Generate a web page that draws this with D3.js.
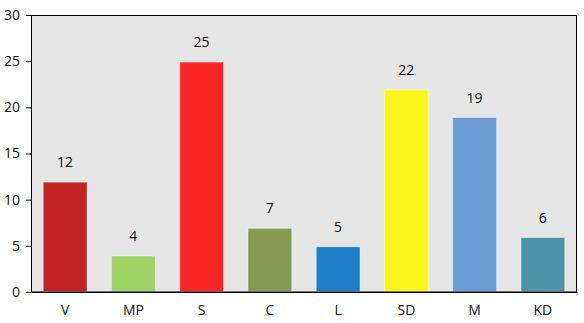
<!DOCTYPE html>
<html>
<meta charset='utf-8'>
<head>
<script src='https://cdnjs.cloudflare.com/ajax/libs/d3/7.8.5/d3.min.js'></script>
<style>
body { margin: 0; background: #fff; }
text { font-family: 'Open Sans', 'Noto Sans', sans-serif; font-size: 14px; fill: #111; }
</style>
</head>
<body>
<div id='chart'></div>
<script>
var parties = ['V', 'MP', 'S', 'C', 'L', 'SD', 'M', 'KD']
var seats = [12, 4, 25, 7, 5, 22, 19, 6]
var colors = ['#c42222', '#9dd265', '#fb2424', '#869b51', '#1e7ec8', '#faf71c', '#6a9bd5', '#4a94a8']
var yTicks = [0, 5, 10, 15, 20, 25, 30]

var margin = {top: 15, right: 7, bottom: 31, left: 31},
    width = 584 - margin.left - margin.right,
    height = 323 - margin.top - margin.bottom;

var svg = d3.select('#chart')
    .append('svg')
    .attr('width', 584)
    .attr('height', 323)
    .append('g')
    .attr('transform', 'translate(' + margin.left + ',' + margin.top + ')');

var x = d3.scaleBand()
    .domain(parties)
    .range([0, width])
    .paddingInner(0.36)
    .paddingOuter(0.18)

var y = d3.scaleLinear()
    .domain([0, 30])
    .range([height, 0])

svg.append('rect')
    .attr('width', width)
    .attr('height', height)
    .style('fill', '#e5e5e5')

var data = parties.map(function(p, i) { return {party: p, value: seats[i], color: colors[i]} })

svg.selectAll('.bar')
    .data(data)
    .enter()
    .append('rect')
    .attr('class', 'bar')
    .attr('x', (d) => x(d.party))
    .attr('y', (d) => y(d.value) + 1)
    .attr('width', x.bandwidth())
    .attr('height', (d) => height - y(d.value) - 1.5)
    .style('fill', (d) => d.color)
    .style('stroke', 'rgba(255,255,255,0.35)')
    .style('stroke-width', 1)

svg.selectAll('.lbl')
    .data(data)
    .enter()
    .append('text')
    .attr('class', 'lbl')
    .attr('x', (d) => x(d.party) + x.bandwidth() / 2)
    .attr('y', (d) => y(d.value) - 14)
    .attr('text-anchor', 'middle')
    .text((d) => d.value)

svg.append('rect')
    .attr('x', 0.5)
    .attr('y', 0.5)
    .attr('width', width - 1)
    .attr('height', height - 0.5)
    .style('fill', 'none')
    .style('stroke', '#000')

var yAxis = svg.append('g')
    .call(d3.axisLeft(y).tickValues(yTicks).tickSize(5).tickPadding(6))
yAxis.select('.domain').remove()
yAxis.selectAll('text').style('font-size', '14px').attr('fill', '#111')

var xAxis = svg.append('g')
    .attr('transform', 'translate(0,' + height + ')')
    .call(d3.axisBottom(x).tickSize(0).tickPadding(13))
xAxis.select('.domain').style('stroke', '#000')
xAxis.selectAll('text').style('font-size', '14px').attr('fill', '#111')
</script>
</body>
</html>
